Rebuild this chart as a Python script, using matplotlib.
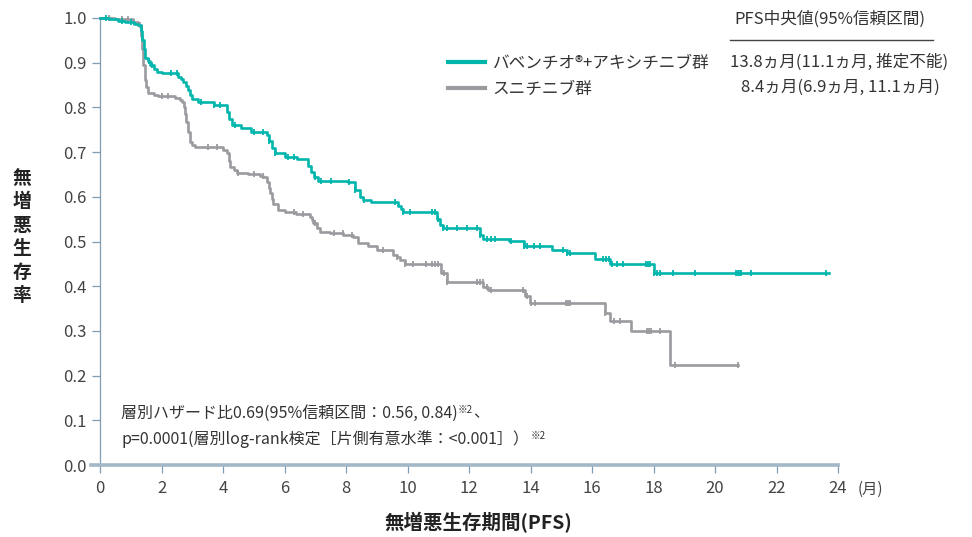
import numpy as np
import matplotlib
matplotlib.use("Agg")
from matplotlib import pyplot as plt

plt.rcParams['font.family'] = ['Noto Sans CJK JP', 'DejaVu Sans']

# KM step data: (time in months, survival after the step)
teal_t = [0, 0.3, 0.6, 0.8, 1.1, 1.25, 1.32, 1.38, 1.42, 1.46, 1.55, 1.63, 1.75, 1.84, 2.0, 2.22,
          2.55, 2.65, 2.71, 2.8, 2.87, 2.93, 2.98, 3.2, 3.7, 4.12, 4.2, 4.28, 4.6, 4.9, 5.42, 5.5,
          5.6, 5.69, 6.0, 6.4, 6.77, 6.85, 6.95, 7.1, 8.07, 8.3, 8.45, 8.56, 8.8, 9.7, 9.78, 9.85,
          10.95, 11.05, 11.15, 12.36, 12.45, 13.3, 13.8, 14.7, 15.2, 16.1, 16.6, 18.0, 23.7]
teal_s = [1.0, 0.997, 0.993, 0.99, 0.987, 0.984, 0.97, 0.95, 0.93, 0.91, 0.903, 0.895, 0.887,
          0.88, 0.878, 0.876, 0.869, 0.864, 0.857, 0.848, 0.839, 0.828, 0.818, 0.812, 0.806,
          0.79, 0.775, 0.761, 0.753, 0.746, 0.738, 0.725, 0.71, 0.697, 0.69, 0.684, 0.67, 0.655,
          0.645, 0.636, 0.632, 0.615, 0.60, 0.593, 0.589, 0.58, 0.572, 0.567, 0.55, 0.538,
          0.530, 0.515, 0.505, 0.501, 0.490, 0.481, 0.474, 0.461, 0.449, 0.430, 0.430]
teal_cens = [0.2, 0.7, 1.0, 1.6, 1.7, 2.3, 2.5, 3.3, 3.7, 3.9, 4.4, 5.0, 5.3, 5.5, 5.7, 6.1, 6.3,
             7.0, 7.2, 7.5, 8.1, 8.3, 8.6, 9.6, 9.86, 10.08, 10.8, 10.9, 11.0, 11.16, 11.28, 11.6,
             11.94, 12.25, 12.36, 12.57, 12.7, 12.85, 13.35, 13.8, 13.9, 14.1, 14.3, 15.05, 15.2,
             15.3, 16.36, 16.46, 16.56, 16.65, 16.8, 17.0, 17.76, 17.83, 17.9, 18.0, 18.1, 18.2,
             18.64, 19.35, 20.68, 20.74, 20.8, 20.86, 21.16, 23.6]

gray_t = [0, 0.5, 1.08, 1.25, 1.32, 1.36, 1.41, 1.45, 1.5, 1.57, 1.75, 1.9, 2.44, 2.6, 2.68,
          2.72, 2.76, 2.8, 2.85, 2.93, 3.0, 3.09, 3.84, 4.0, 4.12, 4.18, 4.23, 4.35, 4.45, 4.8,
          5.2, 5.31, 5.42, 5.48, 5.53, 5.6, 5.64, 5.8, 6.0, 6.39, 6.83, 6.9, 6.94, 7.05, 7.15,
          7.48, 7.91, 8.24, 8.4, 8.7, 9.0, 9.54, 9.65, 9.76, 9.92, 11.1, 11.27, 12.47, 12.63,
          13.82, 13.98, 16.42, 16.6, 17.27, 18.54, 20.76]
gray_s = [1.0, 0.997, 0.992, 0.984, 0.96, 0.93, 0.895, 0.862, 0.846, 0.832, 0.828, 0.826,
          0.822, 0.817, 0.813, 0.80, 0.785, 0.768, 0.745, 0.723, 0.716, 0.712, 0.711, 0.705,
          0.697, 0.68, 0.667, 0.66, 0.653, 0.65, 0.647, 0.645, 0.634, 0.62, 0.608, 0.595,
          0.585, 0.570, 0.566, 0.562, 0.555, 0.548, 0.541, 0.530, 0.522, 0.518, 0.515, 0.511,
          0.497, 0.49, 0.48, 0.470, 0.465, 0.459, 0.450, 0.429, 0.409, 0.399, 0.391, 0.377,
          0.362, 0.341, 0.323, 0.300, 0.224, 0.224]
gray_cens = [0.3, 0.7, 0.9, 1.1, 1.3, 2.0, 2.2, 3.5, 3.8, 4.5, 5.0, 5.3, 6.3, 6.6, 7.0, 7.6,
             7.9, 8.2, 9.2, 9.65, 9.92, 10.19, 10.6, 10.8, 10.9, 11.0, 11.2, 11.3, 12.25, 12.35,
             12.45, 12.6, 12.7, 13.77, 13.9, 14.0, 14.15, 15.17, 15.22, 15.28, 16.42, 16.7,
             16.9, 17.78, 17.85, 17.92, 18.2, 18.7, 20.76]

xticks = list(range(0, 25, 2))
yticks = [0.0, 0.1, 0.2, 0.3, 0.4, 0.5, 0.6, 0.7, 0.8, 0.9, 1.0]

teal = '#00b5ac'
gray = '#9b9b9f'
spine = '#7f9db5'
txt = '#333333'

fig = plt.figure(figsize=(9.72, 5.37), dpi=100)
ax = fig.add_axes([100/972, 72/537, 738/972, 447/537])


def surv_at(ts, ss, c):
    i = np.searchsorted(ts, c, side='right') - 1
    return np.array(ss)[i]


def fy(y):
    return (537 - y) / 537


ax.step(teal_t, teal_s, where='post', color=teal, lw=1.9, clip_on=False, zorder=4,
        label='バベンチオ®+アキシチニブ群')
ax.plot(teal_cens, surv_at(teal_t, teal_s, teal_cens), ls='none', marker='|', ms=4.5,
        mew=1.3, color=teal, clip_on=False, zorder=4)
ax.step(gray_t, gray_s, where='post', color=gray, lw=1.9, clip_on=False, zorder=3,
        label='スニチニブ群')
ax.plot(gray_cens, surv_at(gray_t, gray_s, gray_cens), ls='none', marker='|', ms=4.5,
        mew=1.3, color=gray, clip_on=False, zorder=3)

ax.set_xlim(0, 24)
ax.set_ylim(0, 1.0)
ax.set_xticks(xticks)
ax.set_xticklabels([str(v) for v in xticks])
ax.set_yticks(yticks)
ax.set_yticklabels(['%.1f' % v for v in yticks])
for s in ['top', 'right']:
    ax.spines[s].set_visible(False)
ax.spines['left'].set_color(spine)
ax.spines['left'].set_linewidth(0.9)
ax.spines['bottom'].set_color('#a3b8c6')
ax.spines['bottom'].set_linewidth(2.6)
ax.spines['bottom'].set_bounds(-0.3, 24)
ax.tick_params(axis='both', colors=spine, length=6, width=0.9, labelcolor='#444444',
               labelsize=12)
ax.tick_params(axis='x', pad=5)

ax.text(24.65, -0.055, '(月)', fontsize=11, color='#444444', ha='left', va='center')

fig.text(478/972, fy(523), '無増悪生存期間(PFS)', fontsize=14, fontweight='bold',
         ha='center', va='center', color='#222222')
fig.text(22/972, fy(237), '\n'.join('無増悪生存率'), fontsize=13.5, fontweight='bold',
         ha='center', va='center', color='#222222', linespacing=1.3)

leg = ax.legend(loc='upper left', bbox_to_anchor=(440/972, fy(47)),
                bbox_transform=fig.transFigure, frameon=False, fontsize=12,
                handlelength=2.2, handletextpad=0.45, labelspacing=0.5, borderpad=0)
for h in leg.get_lines():
    h.set_linewidth(3)
for t in leg.get_texts():
    t.set_color(txt)

fig.text(830/972, fy(19), 'PFS中央値(95%信頼区間)', fontsize=12, color=txt,
         ha='center', va='center')
fig.add_artist(plt.Line2D([730/972, 933/972], [fy(40), fy(40)], color='#444444', lw=1.0))
fig.text(839/972, fy(62), '13.8ヵ月(11.1ヵ月, 推定不能)', fontsize=12, color=txt,
         ha='center', va='center')
fig.text(840/972, fy(87), '8.4ヵ月(6.9ヵ月, 11.1ヵ月)', fontsize=12, color=txt,
         ha='center', va='center')

t1 = fig.text(121/972, fy(413), '層別ハザード比0.69(95%信頼区間：0.56, 0.84)',
              fontsize=11.5, color=txt, ha='left', va='center')
t2 = fig.text(121/972, fy(439), 'p=0.0001(層別log-rank検定［片側有意水準：<0.001］）',
              fontsize=11.5, color=txt, ha='left', va='center')
fig.canvas.draw()
r = fig.canvas.get_renderer()
bb = t1.get_window_extent(r)
s = fig.text(bb.x1 / fig.bbox.width, fy(410), '※2', fontsize=7, color=txt,
             ha='left', va='center')
fig.canvas.draw()
bb2 = s.get_window_extent(r)
fig.text(bb2.x1 / fig.bbox.width, fy(413), '、', fontsize=11.5, color=txt,
         ha='left', va='center')
bb = t2.get_window_extent(r)
fig.text(bb.x1 / fig.bbox.width + 2/972, fy(436), '※2', fontsize=7, color=txt,
         ha='left', va='center')

fig.savefig('out.png', dpi=100)
